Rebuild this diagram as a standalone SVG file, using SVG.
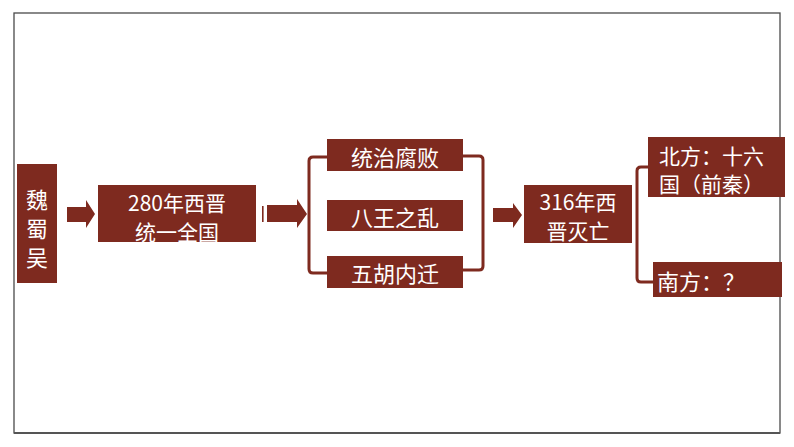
<svg xmlns="http://www.w3.org/2000/svg" width="794" height="447" viewBox="0 0 794 447">
<style>
.box{fill:#7E2A1F}
.t{fill:#fff;font-family:"Noto Sans CJK SC","Noto Sans",sans-serif;font-size:22px;dominant-baseline:central}
.m{font-size:21px}
.c{text-anchor:middle}
.br{fill:none;stroke:#7E2A1F;stroke-width:3;stroke-linejoin:round}
.ar{fill:#7E2A1F}
</style>
<rect x="0" y="0" width="794" height="447" fill="#fff"/>
<rect x="14" y="13" width="766" height="420" fill="none" stroke="#4a4a4a" stroke-width="1.3"/>
<line x1="14" y1="433" x2="780" y2="433" stroke="#555" stroke-width="2"/>
<g id="connectors">
<polygon class="ar" points="67,207 86,207 86,200 95,214 86,228 86,222 67,222"/>
<rect class="ar" x="262" y="206" width="1.6" height="16"/>
<polygon class="ar" points="267,205 297,205 297,199 307,214 297,228 297,222 267,222"/>
<path class="br" d="M327,157 H313 Q309,157 309,161 V269 Q309,273 313,273 H327"/>
<path class="br" d="M463,156 H479 Q483,156 483,160 V266 Q483,270 479,270 H463"/>
<polygon class="ar" points="493,208 513,208 513,203 522,215 513,228 513,222 493,222"/>
<path class="br" d="M648,167 H641 Q637,167 637,171 V278 Q637,282 641,282 H653"/>
</g>
<g id="n1"><rect class="box" x="17" y="164" width="40" height="119"/>
<text class="t c" x="37" y="198">魏</text><text class="t c" x="37" y="227">蜀</text><text class="t c" x="37" y="256">吴</text></g>
<g id="n2"><rect class="box" x="98" y="185" width="158" height="57"/>
<text class="t m c" x="177" y="202">280年西晋</text><text class="t m c" x="177" y="231">统一全国</text></g>
<g id="n3"><rect class="box" x="327" y="139" width="136" height="32"/>
<text class="t c" x="395" y="156">统治腐败</text></g>
<g id="n4"><rect class="box" x="327" y="200" width="136" height="31"/>
<text class="t c" x="395" y="216">八王之乱</text></g>
<g id="n5"><rect class="box" x="327" y="256" width="136" height="32"/>
<text class="t c" x="395" y="272">五胡内迁</text></g>
<g id="n6"><rect class="box" x="524" y="185" width="108" height="58"/>
<text class="t m c" x="578" y="201">316年西</text><text class="t m c" x="578" y="230">晋灭亡</text></g>
<g id="n7"><rect class="box" x="648" y="137" width="137" height="60"/>
<text class="t m" x="659" y="155">北方：十六</text><text class="t m" x="659" y="183">国（前秦）</text></g>
<g id="n8"><rect class="box" x="653" y="262" width="129" height="35"/>
<text class="t" x="657" y="280">南方：？</text></g>
</svg>
